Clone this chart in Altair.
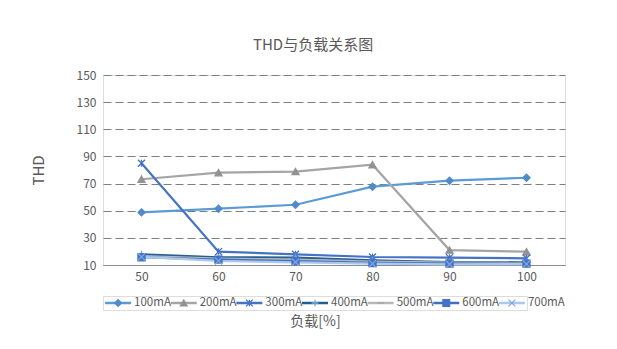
import altair as alt
import pandas as pd

loads = [50, 60, 70, 80, 90, 100]
series = ["100mA", "200mA", "300mA", "400mA", "500mA", "600mA", "700mA"]
s100 = [48.8, 51.5, 54.4, 67.7, 72.1, 74.3]
s200 = [73.2, 78.0, 78.8, 83.9, 21.0, 19.8]
s300 = [85.0, 19.8, 17.9, 15.9, 15.4, 14.9]
s400 = [17.9, 15.7, 15.4, 13.4, 12.2, 12.0]
s500 = [16.5, 14.8, 14.0, 12.5, 11.8, 11.5]
s600 = [15.7, 14.0, 12.8, 11.5, 11.0, 11.0]
s700 = [16.0, 13.0, 12.0, 11.0, 10.5, 10.7]
values = [s100, s200, s300, s400, s500, s600, s700]
y_ticks = [10, 30, 50, 70, 90, 110, 130, 150]

line_colors = ["#5B9BD5", "#A5A5A5", "#4472C4", "#255E91", "#B7B7B7", "#3F6EC6", "#A9C8EC"]
marker_colors = ["#4F8BCB", "#929292", "#4472C4", "#6FA8DC", "#A5A5A5", "#4472C4", "#7EA6E0"]
shapes = ["diamond", "triangle-up", "M-1,-1L1,1M1,-1L-1,1M0,-1L0,1",
          "M-1,0L1,0M0,-1L0,1", "M-1,0L1,0", "square", "M-1,-1L1,1M1,-1L-1,1"]

rows = []
for i, (name, vals) in enumerate(zip(series, values)):
    for x, v in zip(loads, vals):
        rows.append({"series": name, "order": i, "load": x, "thd": v})
df = pd.DataFrame(rows)
leg = pd.DataFrame({"series": series, "order": list(range(len(series)))})

TXT = "#595959"
col = alt.Scale(domain=series, range=line_colors)
mcol = alt.Scale(domain=series, range=marker_colors)
shp = alt.Scale(domain=series, range=shapes)

xenc = alt.X("load:O", scale=alt.Scale(type="point", padding=0.5),
             axis=alt.Axis(title=None, labelAngle=0, ticks=False, labelPadding=6,
                           labelFontSize=12, labelColor=TXT, domainColor="#8C8C8C",
                           domainWidth=1, grid=False))
yenc = alt.Y("thd:Q", scale=alt.Scale(domain=[10, 150], nice=False),
             axis=alt.Axis(values=y_ticks, title="THD", titleFontSize=15,
                           titleFontWeight="normal", titleColor=TXT, titlePadding=30,
                           labelFontSize=12, labelColor=TXT, labelPadding=7,
                           ticks=False, domain=False, grid=True, gridColor="#7F7F7F",
                           gridDash=[8, 4], gridWidth=1))

lines = alt.Chart(df).mark_line(strokeWidth=2.2).encode(
    x=xenc, y=yenc,
    color=alt.Color("series:N", scale=col, legend=None),
    detail="series:N",
    order=alt.Order("load:Q"),
)
points = alt.Chart(df).mark_point(filled=True, size=50, strokeWidth=1.3, opacity=1).encode(
    x=xenc, y=yenc,
    fill=alt.Fill("series:N", scale=mcol, legend=None),
    stroke=alt.Stroke("series:N", scale=mcol, legend=None),
    shape=alt.Shape("series:N", scale=shp, legend=None),
)
main = alt.layer(lines, points).properties(width=462, height=190)

lx = alt.X("series:N", sort=series, scale=alt.Scale(type="point", padding=0.23),
           axis=alt.Axis(labels=False, ticks=False, domain=False, grid=False,
                         title="负载[%]", titleFontSize=14, titleFontWeight="normal",
                         titleColor=TXT, titlePadding=4))
leg_line = alt.Chart(leg).mark_point(shape="M-1,0L1,0", size=676, strokeWidth=2.5,
                                     filled=False, opacity=1).encode(
    x=lx, stroke=alt.Stroke("series:N", scale=col, legend=None))
leg_mark = alt.Chart(leg).mark_point(filled=True, size=45, strokeWidth=1.3, opacity=1).encode(
    x=lx,
    fill=alt.Fill("series:N", scale=mcol, legend=None),
    stroke=alt.Stroke("series:N", scale=mcol, legend=None),
    shape=alt.Shape("series:N", scale=shp, legend=None))
leg_text = alt.Chart(leg).mark_text(align="left", baseline="middle", dx=16,
                                    fontSize=11.5, color=TXT).encode(
    x=lx, text="series:N")
legend = alt.layer(leg_line, leg_mark, leg_text).resolve_scale(
    stroke="independent").properties(width=424, height=14)

chart = alt.vconcat(main, legend, spacing=12).properties(
    title=alt.TitleParams("THD与负载关系图", fontSize=15, fontWeight="normal",
                          color=TXT, anchor="middle", frame="bounds", offset=16, dx=15),
    padding={"top": 29, "left": 22, "right": 5, "bottom": 5},
).configure_view(stroke=None).configure(font="Noto Sans CJK SC")

chart.save("out.html", embed_options={"renderer": "svg", "actions": False})
